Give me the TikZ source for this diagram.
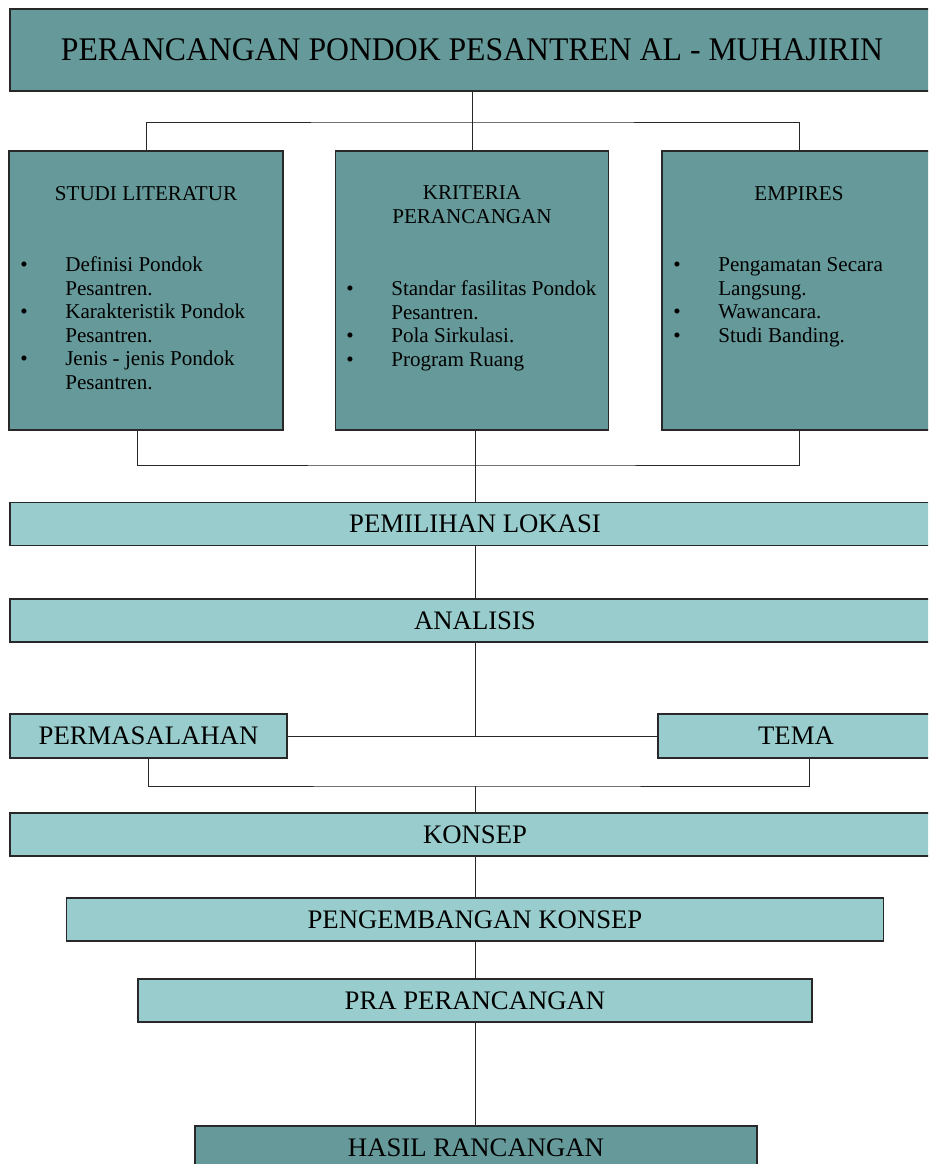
\documentclass[tikz,border=0pt]{standalone}
\usepackage{fontspec}
\setmainfont{Liberation Serif}
\usepackage{graphicx}
\usepackage{tikz}
\usetikzlibrary{positioning}
\definecolor{darkteal}{RGB}{102,153,153}
\definecolor{lightteal}{RGB}{153,204,204}
\definecolor{edge}{RGB}{40,40,40}
\newcommand{\bulpt}{\makebox[1.125cm][l]{\textbullet}}
\newcommand{\bulind}{\hspace*{1.125cm}}

\begin{document}
\begin{tikzpicture}[x=0.025cm, y=-0.025cm,
    darkbox/.style={draw=edge, line width=0.9pt, fill=darkteal, inner sep=0pt},
    lightbox/.style={draw=edge, line width=0.9pt, fill=lightteal, inner sep=0pt,
      minimum height=1.075cm, font=\fontsize{19}{21}\selectfont},
    head/.style={anchor=base, align=center, inner sep=0pt, font=\fontsize{15}{16.7}\selectfont},
    items/.style={anchor=base west, align=left, inner sep=0pt, font=\fontsize{15}{16.7}\selectfont},
    wire/.style={draw=edge, line width=0.7pt}]
          \useasboundingbox (0,0) rectangle (928,1164);
          \clip (0,0) rectangle (928,1164);
          \node [darkbox, minimum width=23.1cm, minimum height=2.05cm, font=\fontsize{23.5}{25}\selectfont] (title) at (472,50) {\scalebox{0.96}[1]{PERANCANGAN PONDOK PESANTREN AL - MUHAJIRIN}};
          \node [darkbox, minimum width=6.85cm, minimum height=6.975cm] (studi) at (146,290.5) {};
          \node [darkbox, minimum width=6.825cm, minimum height=6.975cm] (krit) at (472,290.5) {};
          \node [darkbox, minimum width=6.85cm, minimum height=6.975cm] (emp) at (799,290.5) {};
          \node [head] (studihead) at (146,200) {STUDI LITERATUR};
          \node [head] (krithead) at (472,223) {KRITERIA\\PERANCANGAN};
          \node [head] (emphead) at (799,200) {EMPIRES};
          \node [items] (studilist) at (20,389) {\bulpt Definisi Pondok\\ \bulind Pesantren.\\ \bulpt Karakteristik Pondok\\ \bulind Pesantren.\\ \bulpt Jenis - jenis Pondok\\ \bulind Pesantren.};
          \node [items] (kritlist) at (346,366) {\bulpt Standar fasilitas Pondok\\ \bulind Pesantren.\\ \bulpt Pola Sirkulasi.\\ \bulpt Program Ruang};
          \node [items] (emplist) at (673,342) {\bulpt Pengamatan Secara\\ \bulind Langsung.\\ \bulpt Wawancara.\\ \bulpt Studi Banding.};
          \node [lightbox, minimum width=23.25cm] (lokasi) at (475,524) {PEMILIHAN LOKASI};
          \node [lightbox, minimum width=23.25cm] (analisis) at (475,620.5) {ANALISIS};
          \node [lightbox, minimum width=6.925cm, minimum height=1.1cm] (masalah) at (148.5,736) {PERMASALAHAN};
          \node [lightbox, minimum width=6.9cm, minimum height=1.1cm] (tema) at (796,736) {TEMA};
          \node [lightbox, minimum width=23.25cm] (konsep) at (475,834.5) {KONSEP};
          \node [lightbox, minimum width=20.425cm] (kembang) at (475,919.5) {PENGEMBANGAN KONSEP};
          \node [lightbox, minimum width=16.85cm] (pra) at (475,1000.5) {PRA PERANCANGAN};
          \node [darkbox, minimum width=14.05cm, minimum height=1.075cm, font=\fontsize{19}{21}\selectfont] (hasil) at (476,1147.5) {HASIL RANCANGAN};
          \coordinate (busA) at (472,122);
          \coordinate (busB) at (475,465);
          \coordinate (busC) at (475,786);
          \draw [wire] (title) -- (krit);
          \draw [wire] (studi.north) |- (busA) -| (emp.north);
          \draw [wire] ([xshift=-0.225cm]studi.south) |- (busB) -| (emp.south);
          \draw [wire] (krit.south -| busB) -- (lokasi.north -| busB);
          \draw [wire] (lokasi) -- (analisis);
          \draw [wire] (analisis) -- (analisis |- masalah);
          \draw [wire] (masalah) -- (tema);
          \draw [wire] (masalah.south) |- (busC) -| ([xshift=0.325cm]tema.south);
          \draw [wire] (busC) -- (konsep);
          \draw [wire] (konsep) -- (kembang);
          \draw [wire] (kembang) -- (pra);
          \draw [wire] (pra.south) -- (pra.south |- hasil.north);
 \end{tikzpicture}
\end{document}
